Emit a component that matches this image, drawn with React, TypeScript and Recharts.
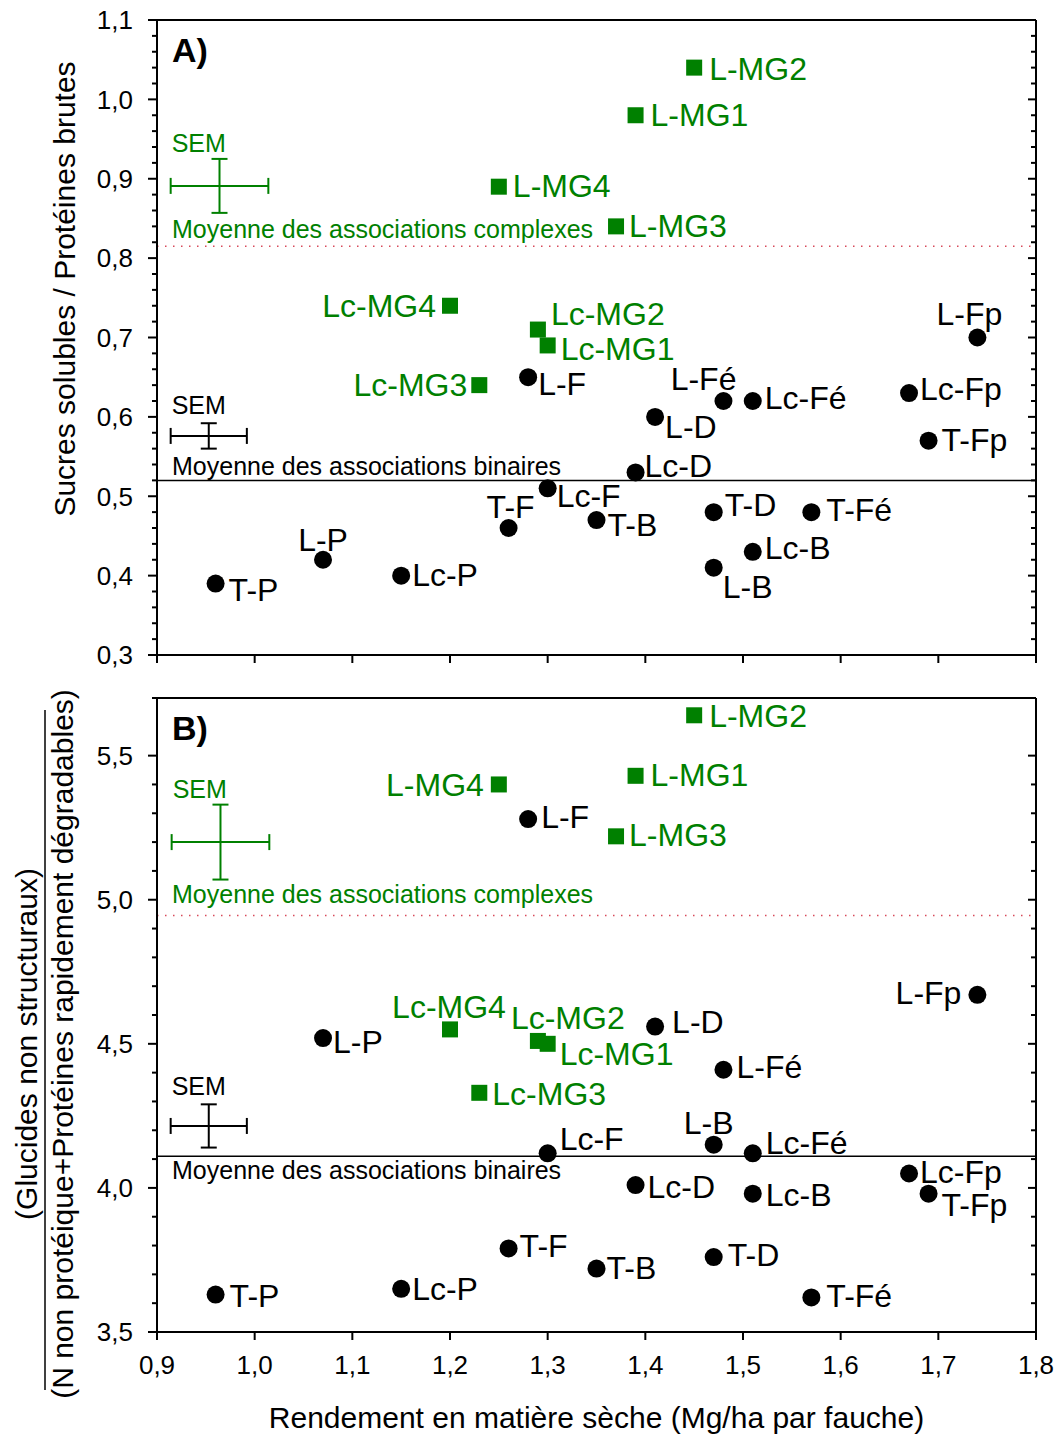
import React from 'react';
import { ScatterChart, Scatter, XAxis, YAxis, ReferenceLine, ReferenceDot, ErrorBar } from 'recharts';

const FONT = '"Liberation Sans", Arial, Helvetica, sans-serif';
const GREEN = '#008000';
const DOTTED = '#d84a5a';

// associations complexes (carrés verts)
const complexNames = ['L-MG1', 'L-MG2', 'L-MG3', 'L-MG4', 'Lc-MG1', 'Lc-MG2', 'Lc-MG3', 'Lc-MG4'];
const complexYield = [1.39, 1.45, 1.37, 1.25, 1.3, 1.29, 1.23, 1.2];
const complexSugarProtein = [0.98, 1.04, 0.84, 0.89, 0.69, 0.71, 0.64, 0.74];
const complexCarbNitrogen = [5.43, 5.64, 5.22, 5.4, 4.5, 4.51, 4.33, 4.55];

// associations binaires (points noirs)
const binaryNames = [
  'L-F', 'L-Fé', 'L-Fp', 'L-D', 'L-B', 'L-P',
  'Lc-F', 'Lc-Fé', 'Lc-Fp', 'Lc-D', 'Lc-B', 'Lc-P',
  'T-F', 'T-Fé', 'T-Fp', 'T-D', 'T-B', 'T-P',
];
const binaryYield = [1.28, 1.48, 1.74, 1.41, 1.47, 1.07, 1.3, 1.51, 1.67, 1.39, 1.51, 1.15, 1.26, 1.57, 1.69, 1.47, 1.35, 0.96];
const binarySugarProtein = [0.65, 0.62, 0.7, 0.6, 0.41, 0.42, 0.51, 0.62, 0.63, 0.53, 0.43, 0.4, 0.46, 0.48, 0.57, 0.48, 0.47, 0.39];
const binaryCarbNitrogen = [5.28, 4.41, 4.67, 4.56, 4.15, 4.52, 4.12, 4.12, 4.05, 4.01, 3.98, 3.65, 3.79, 3.62, 3.98, 3.76, 3.72, 3.63];

// moyennes
const meanComplexA = 0.815;
const meanBinaryA = 0.52;
const meanComplexB = 4.945;
const meanBinaryB = 4.11;

// SEM (centre + demi-barres)
const semComplexA = [{ x: 0.964, y: 0.891, ex: 0.05, ey: 0.034 }];
const semBinaryA = [{ x: 0.953, y: 0.576, ex: 0.039, ey: 0.016 }];
const semComplexB = [{ x: 0.965, y: 5.2, ex: 0.05, ey: 0.13 }];
const semBinaryB = [{ x: 0.953, y: 4.215, ex: 0.039, ey: 0.075 }];

// axes
const xTicks = [0.9, 1.0, 1.1, 1.2, 1.3, 1.4, 1.5, 1.6, 1.7, 1.8];
const yMajorA = [0.3, 0.4, 0.5, 0.6, 0.7, 0.8, 0.9, 1.0, 1.1];
const yMajorB = [3.5, 4.0, 4.5, 5.0, 5.5];

// placement des étiquettes [dx, dy, ancrage]
type Lbl = [number, number, 'start' | 'middle' | 'end'];
const complexLabelA: Lbl[] = [
  [15, 11, 'start'], [15, 12, 'start'], [13, 11, 'start'], [14, 10, 'start'],
  [13, 15, 'start'], [13, -5, 'start'], [-12, 11, 'end'], [-14, 11, 'end'],
];
const complexLabelB: Lbl[] = [
  [15, 10, 'start'], [15, 12, 'start'], [13, 10, 'start'], [-15, 12, 'end'],
  [12, 21, 'start'], [-27, -12, 'start'], [13, 12, 'start'], [-1, -11, 'middle'],
];
const binaryLabelA: Lbl[] = [
  [10, 18, 'start'], [13, -11, 'end'], [-8, -13, 'middle'], [10, 21, 'start'], [9, 30, 'start'], [0, -9, 'middle'],
  [9, 19, 'start'], [12, 8, 'start'], [11, 7, 'start'], [9, 5, 'start'], [12, 7, 'start'], [11, 10, 'start'],
  [2, -10, 'middle'], [15, 9, 'start'], [13, 10, 'start'], [11, 4, 'start'], [11, 16, 'start'], [13, 17, 'start'],
];
const binaryLabelB: Lbl[] = [
  [13, 9, 'start'], [13, 8, 'start'], [-16, 9, 'end'], [17, 6, 'start'], [-5, -11, 'middle'], [10, 15, 'start'],
  [12, -3, 'start'], [13, 1, 'start'], [11, 9, 'start'], [12, 13, 'start'], [13, 12, 'start'], [11, 11, 'start'],
  [11, 9, 'start'], [15, 10, 'start'], [13, 22, 'start'], [14, 9, 'start'], [10, 10, 'start'], [14, 12, 'start'],
];

const build = (names: string[], xs: number[], ys: number[], labels: Lbl[]) =>
  names.map((name, i) => ({ name, x: xs[i], y: ys[i], dx: labels[i][0], dy: labels[i][1], anchor: labels[i][2] }));

const withMinors = (majors: number[], parts: number) => {
  const out: number[] = [];
  for (let i = 0; i < majors.length - 1; i++) {
    const step = (majors[i + 1] - majors[i]) / parts;
    for (let k = 0; k < parts; k++) out.push(+(majors[i] + k * step).toFixed(4));
  }
  out.push(majors[majors.length - 1]);
  return out;
};

const fmt = (v: number) => v.toFixed(1).replace('.', ',');
const isMajor = (majors: number[], v: number) => majors.some((m) => Math.abs(m - v) < 1e-6);

const leftTick = (majors: number[]) => (props: any) => {
  const { x, y, payload } = props;
  const major = isMajor(majors, payload.value);
  return (
    <g>
      <line x1={x - (major ? 9 : 5)} x2={x} y1={y} y2={y} stroke="#000" strokeWidth={2} />
      {major && (
        <text x={x - 24} y={y} dy="0.36em" textAnchor="end" fontSize={26} fontFamily={FONT} fill="#000">
          {fmt(payload.value)}
        </text>
      )}
    </g>
  );
};

const rightTick = (majors: number[]) => (props: any) => {
  const { x, y, payload } = props;
  const major = isMajor(majors, payload.value);
  return <line x1={x - (major ? 8 : 5)} x2={x} y1={y} y2={y} stroke="#000" strokeWidth={2} />;
};

const bottomTick = (showText: boolean) => (props: any) => {
  const { x, y, payload } = props;
  return (
    <g>
      <line x1={x} x2={x} y1={y} y2={y + 8} stroke="#000" strokeWidth={2} />
      {showText && (
        <text x={x} y={y + 42} textAnchor="middle" fontSize={26} fontFamily={FONT} fill="#000">
          {fmt(payload.value)}
        </text>
      )}
    </g>
  );
};

const squareShape = (props: any) => {
  const { cx, cy, payload } = props;
  return (
    <g>
      <rect x={cx - 8} y={cy - 8} width={16} height={16} fill={GREEN} />
      <text x={cx + payload.dx} y={cy + payload.dy} textAnchor={payload.anchor} fontSize={32} fontFamily={FONT} fill={GREEN}>
        {payload.name}
      </text>
    </g>
  );
};

const circleShape = (props: any) => {
  const { cx, cy, payload } = props;
  return (
    <g>
      <circle cx={cx} cy={cy} r={9} fill="#000" />
      <text x={cx + payload.dx} y={cy + payload.dy} textAnchor={payload.anchor} fontSize={32} fontFamily={FONT} fill="#000">
        {payload.name}
      </text>
    </g>
  );
};

const noShape = () => <g />;

const smallText = (text: string, color: string, dx: number, dy: number) => (props: any) => {
  const vb = props.viewBox || {};
  return (
    <text x={(vb.x ?? 0) + dx} y={(vb.y ?? 0) + dy} fontSize={25} fontFamily={FONT} fill={color}>
      {text}
    </text>
  );
};

interface PanelProps {
  height: number;
  margin: { top: number; right: number; bottom: number; left: number };
  xHeight: number;
  showXText: boolean;
  yDomain: [number, number];
  yMajors: number[];
  yTicks: number[];
  complex: any[];
  binary: any[];
  meanC: number;
  meanB: number;
  meanCDy: number;
  meanBDy: number;
  semC: any[];
  semB: any[];
  tag: string;
  yLabel: (p: any) => React.ReactNode;
  xLabel?: (p: any) => React.ReactNode;
}

function Panel(p: PanelProps) {
  const c = p.semC[0];
  const b = p.semB[0];
  return (
    <ScatterChart width={1060} height={p.height} margin={p.margin}>
      <XAxis
        type="number"
        dataKey="x"
        domain={[0.9, 1.8]}
        ticks={xTicks}
        interval={0}
        allowDataOverflow
        height={p.xHeight}
        tickSize={0}
        tickMargin={0}
        tickLine={false}
        axisLine={{ stroke: '#000', strokeWidth: 2 }}
        tick={bottomTick(p.showXText)}
        label={p.xLabel ? { content: p.xLabel } : undefined}
      />
      <YAxis
        type="number"
        dataKey="y"
        domain={p.yDomain}
        ticks={p.yTicks}
        interval={0}
        allowDataOverflow
        width={60}
        tickSize={0}
        tickMargin={0}
        tickLine={false}
        axisLine={{ stroke: '#000', strokeWidth: 2 }}
        tick={leftTick(p.yMajors)}
        label={{ content: p.yLabel }}
      />
      <YAxis
        yAxisId="r"
        orientation="right"
        type="number"
        domain={p.yDomain}
        ticks={p.yTicks}
        interval={0}
        allowDataOverflow
        width={1}
        tickSize={0}
        tickMargin={0}
        tickLine={false}
        axisLine={{ stroke: '#000', strokeWidth: 2 }}
        tick={rightTick(p.yMajors)}
      />
      <ReferenceLine
        y={p.yDomain[1]}
        stroke="#000"
        strokeWidth={2}
        label={{
          content: (props: any) => {
            const vb = props.viewBox || {};
            return (
              <text x={(vb.x ?? 0) + 15} y={(vb.y ?? 0) + 42} fontSize={34} fontWeight="bold" fontFamily={FONT} fill="#000">
                {p.tag}
              </text>
            );
          },
        }}
      />
      <ReferenceLine
        y={p.meanC}
        stroke={DOTTED}
        strokeWidth={1.5}
        strokeDasharray="1.5 6.5"
        label={{ content: smallText('Moyenne des associations complexes', GREEN, 15, p.meanCDy) }}
      />
      <ReferenceLine
        y={p.meanB}
        stroke="#000"
        strokeWidth={1.5}
        label={{ content: smallText('Moyenne des associations binaires', '#000', 15, p.meanBDy) }}
      />
      <ReferenceDot x={c.x - c.ex} y={c.y + c.ey} r={0} fill="none" stroke="none" label={{ content: smallText('SEM', GREEN, 1, -7) }} />
      <ReferenceDot x={b.x - b.ex} y={b.y + b.ey} r={0} fill="none" stroke="none" label={{ content: smallText('SEM', '#000', 1, -9) }} />
      <Scatter data={p.semC} shape={noShape} isAnimationActive={false}>
        <ErrorBar dataKey="ex" direction="x" width={8} stroke={GREEN} strokeWidth={2} />
        <ErrorBar dataKey="ey" direction="y" width={8} stroke={GREEN} strokeWidth={2} />
      </Scatter>
      <Scatter data={p.semB} shape={noShape} isAnimationActive={false}>
        <ErrorBar dataKey="ex" direction="x" width={8} stroke="#000" strokeWidth={2} />
        <ErrorBar dataKey="ey" direction="y" width={8} stroke="#000" strokeWidth={2} />
      </Scatter>
      <Scatter data={p.binary} shape={circleShape} isAnimationActive={false} />
      <Scatter data={p.complex} shape={squareShape} isAnimationActive={false} />
    </ScatterChart>
  );
}

const yLabelA = (props: any) => {
  const cx = 75;
  const cy = 289;
  return (
    <text x={cx} y={cy} transform={`rotate(-90, ${cx}, ${cy})`} textAnchor="middle" fontSize={30} fontFamily={FONT} fill="#000">
      Sucres solubles / Protéines brutes
    </text>
  );
};

const yLabelB = (props: any) => {
  const cy = 364;
  return (
    <g>
      <text x={37} y={cy} transform={`rotate(-90, 37, ${cy})`} textAnchor="middle" fontSize={30} fontFamily={FONT} fill="#000">
        (Glucides non structuraux)
      </text>
      <line x1={45} x2={45} y1={30} y2={710} stroke="#000" strokeWidth={1.5} />
      <text x={73} y={cy} transform={`rotate(-90, 73, ${cy})`} textAnchor="middle" fontSize={30} fontFamily={FONT} fill="#000">
        (N non protéique+Protéines rapidement dégradables)
      </text>
    </g>
  );
};

const xLabelB = (props: any) => {
  const vb = props.viewBox || { x: 157, y: 652, width: 879 };
  return (
    <text x={vb.x + vb.width / 2} y={vb.y + 96} textAnchor="middle" fontSize={30} fontFamily={FONT} fill="#000">
      Rendement en matière sèche (Mg/ha par fauche)
    </text>
  );
};

export default function App() {
  const complexA = build(complexNames, complexYield, complexSugarProtein, complexLabelA);
  const binaryA = build(binaryNames, binaryYield, binarySugarProtein, binaryLabelA);
  const complexB = build(complexNames, complexYield, complexCarbNitrogen, complexLabelB);
  const binaryB = build(binaryNames, binaryYield, binaryCarbNitrogen, binaryLabelB);

  return (
    <div style={{ position: 'absolute', left: 0, top: 0, width: 1060, height: 1435, background: '#fff', fontFamily: FONT }}>
      <div style={{ position: 'absolute', left: 0, top: 0 }}>
        <Panel
          height={680}
          margin={{ top: 20, right: 23, bottom: 13, left: 97 }}
          xHeight={12}
          showXText={false}
          yDomain={[0.3, 1.1]}
          yMajors={yMajorA}
          yTicks={withMinors(yMajorA, 5)}
          complex={complexA}
          binary={binaryA}
          meanC={meanComplexA}
          meanB={meanBinaryA}
          meanCDy={-8}
          meanBDy={-5}
          semC={semComplexA}
          semB={semBinaryA}
          tag="A)"
          yLabel={yLabelA}
        />
      </div>
      <div style={{ position: 'absolute', left: 0, top: 680 }}>
        <Panel
          height={755}
          margin={{ top: 18, right: 23, bottom: 0, left: 97 }}
          xHeight={103}
          showXText={true}
          yDomain={[3.5, 5.7]}
          yMajors={yMajorB}
          yTicks={withMinors([3.5, 4.0, 4.5, 5.0, 5.5, 5.7], 5).filter((v, i, arr) => arr.indexOf(v) === i && (v <= 5.5 || Math.abs(v * 10 - Math.round(v * 10)) < 1e-6))}
          complex={complexB}
          binary={binaryB}
          meanC={meanComplexB}
          meanB={meanBinaryB}
          meanCDy={-13}
          meanBDy={23}
          semC={semComplexB}
          semB={semBinaryB}
          tag="B)"
          yLabel={yLabelB}
          xLabel={xLabelB}
        />
      </div>
    </div>
  );
}
